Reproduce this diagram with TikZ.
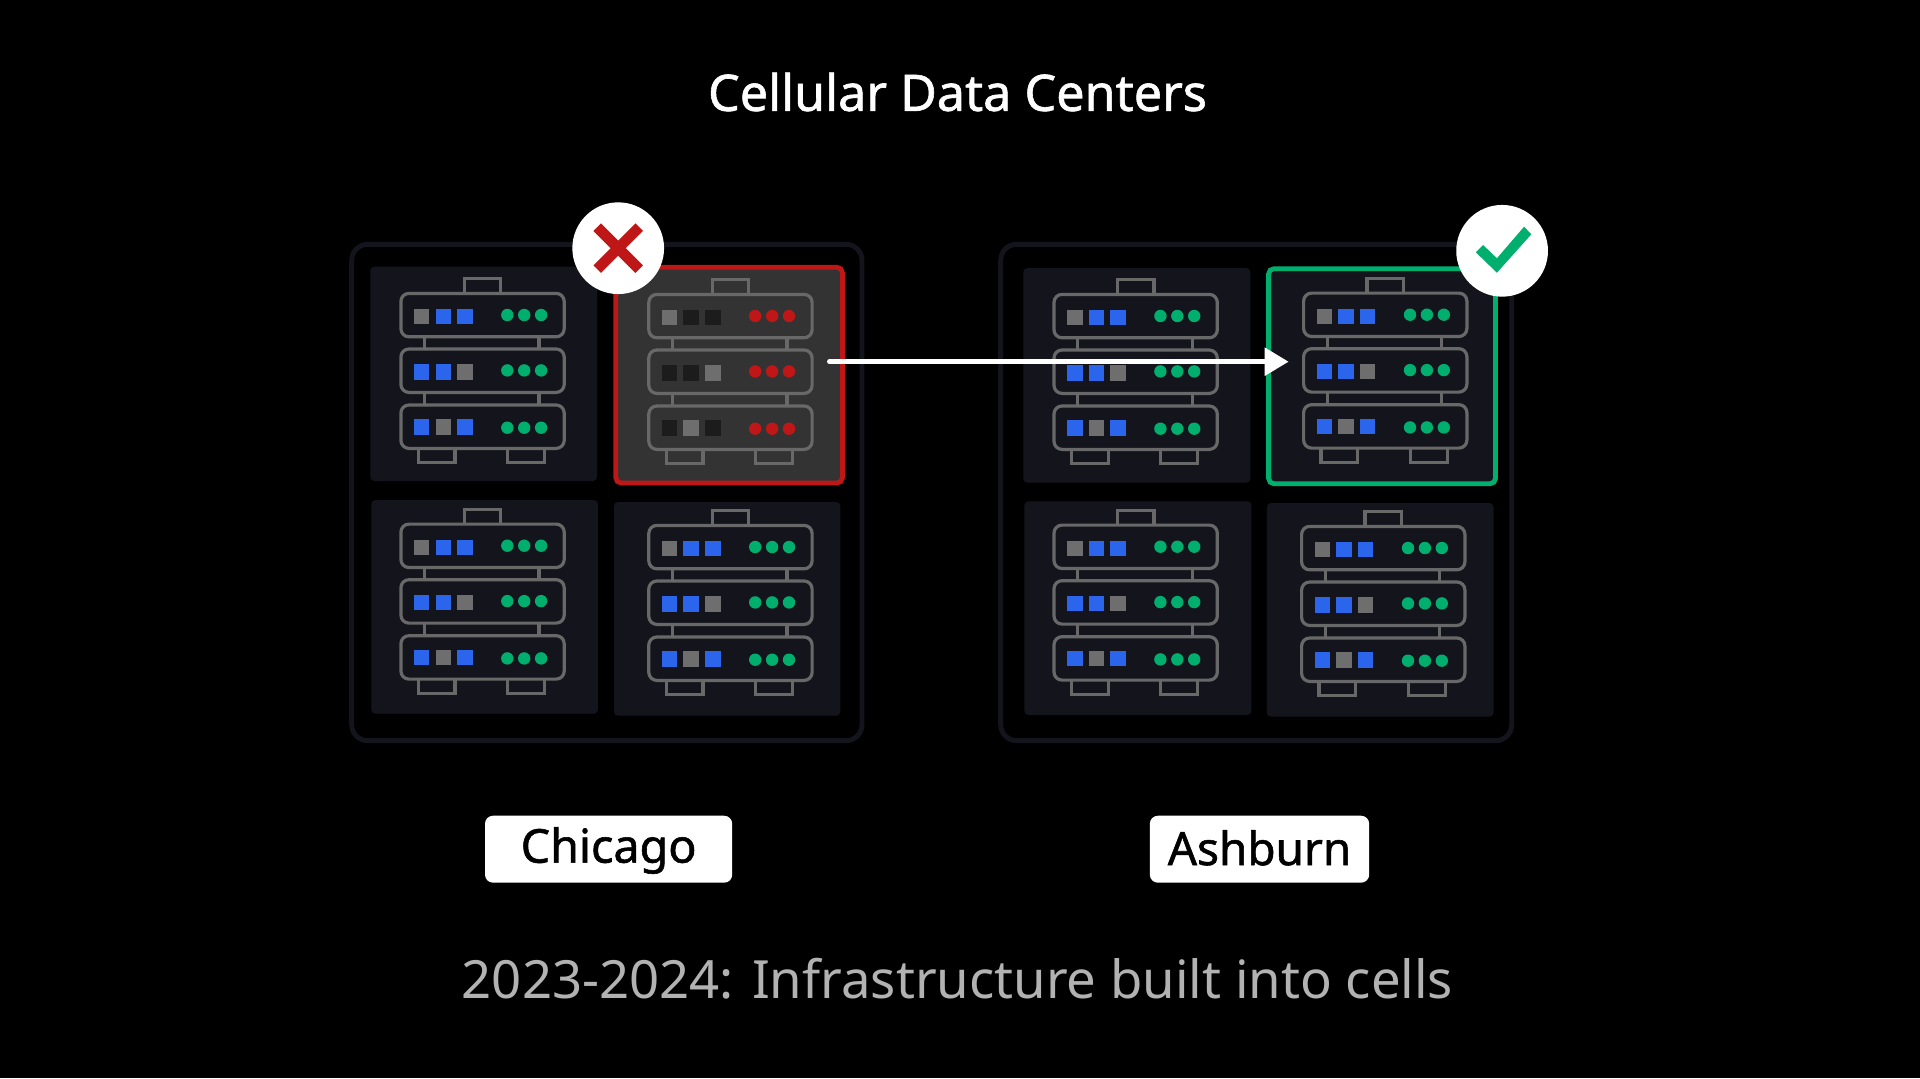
\documentclass[tikz,border=0pt]{standalone}
\usepackage{fontspec}
\usepackage{tikz}
\usetikzlibrary{arrows.meta}
\setmainfont{Noto Sans}
\newfontfamily\medfont{Noto Sans}[FakeBold=1.2]
\definecolor{framegray}{HTML}{14151C}
\definecolor{wiregray}{HTML}{686868}
\definecolor{ledgray}{HTML}{6E6E6E}
\definecolor{leddark}{HTML}{1C1C1C}
\definecolor{ledblue}{HTML}{2B65EC}
\definecolor{ledgreen}{HTML}{00AE6E}
\definecolor{ledred}{HTML}{BF1717}
\definecolor{cellfail}{HTML}{333333}
\tikzset{site/.style = {draw = framegray, line width = 3.7pt, rounded corners = 12pt}}
\tikzset{cell/.style = {fill = framegray, rounded corners = 3pt}}
\tikzset{wire/.style = {draw = wiregray, line width = 2.4pt}}
\tikzset{unit/.style = {wire, rounded corners = 6pt}}
\tikzset{led/.style = {circle, inner sep = 0, minimum size = 9.3pt}}
\tikzset{pad/.style = {inner sep = 0, minimum size = 11.6pt}}
\tikzset{badge/.style = {fill = white, circle, inner sep = 0, minimum size = 68.8pt}}
\tikzset{place/.style = {fill = white, text = black, rounded corners = 6pt, inner sep = 0, text depth = 0pt}}
% #1 origin, #2 dot colour, #3 colour of the lit pads
\newcommand{\rackicon}[3]{
  \begin{scope}[shift = {#1}]
    \draw [wire] (94, 26.7) -- (94, 12) -- (130.5, 12) -- (130.5, 26.7);
    \draw [wire] (47.9, 181.7) -- (47.9, 196) -- (84.7, 196) -- (84.7, 181.7);
    \draw [wire] (137.4, 181.7) -- (137.4, 196) -- (174.2, 196) -- (174.2, 181.7);
    \foreach \xpos in {54.4, 168.7} {
      \draw [wire] (\xpos, 69.7) -- (\xpos, 82.3);
      \draw [wire] (\xpos, 125.7) -- (\xpos, 138.3);
    }
    \foreach \ytop in {26.7, 82.3, 138.3} {
      \draw [unit] (30.6, \ytop) rectangle ++(163.3, 43.4);
    }
    \foreach \xpad/\ypad/\padcol in {51.4/50/ledgray, 73/50/#3, 94.6/50/#3,
                                     51.4/105.3/#3, 73/105.3/#3, 94.6/105.3/ledgray,
                                     51.4/160.3/#3, 73/160.3/ledgray, 94.6/160.3/#3} {
      \node [pad, fill = \padcol] at (\xpad, \ypad) {};
    }
    \foreach \yled in {48.3, 103.7, 161} {
      \foreach \xled in {137, 153.9, 170.8} {
        \node [led, fill = #2] at (\xled, \yled) {};
      }
    }
  \end{scope}
}
\begin{document}
\begin{tikzpicture}[x = 0.75pt, y = -0.75pt]
  \useasboundingbox [fill = black] (0, 0) rectangle (1920, 1078);

  % Chicago
  \draw [site] (351.7, 244.3) rectangle (862, 740.7);
  \fill [cell] (370.3, 266.7) rectangle (597, 481);
  \fill [cell] (371.3, 500) rectangle (597.9, 713.7);
  \fill [cell] (614, 502) rectangle (840.3, 715.7);
  \draw [draw = ledred, fill = cellfail, line width = 3.6pt, rounded corners = 4pt] (615.8, 267.3) rectangle (842.4, 483);

  \rackicon{(370.3, 266.7)}{ledgreen}{ledblue}
  \rackicon{(370.3, 497.4)}{ledgreen}{ledblue}
  \rackicon{(618.2, 498.7)}{ledgreen}{ledblue}
  \rackicon{(618.2, 267.7)}{ledred}{leddark}

  % Ashburn
  \draw [site] (1000.7, 244.3) rectangle (1511.7, 740.7);
  \fill [cell] (1023.4, 268) rectangle (1250.3, 482.7);
  \fill [cell] (1024.4, 501.3) rectangle (1251.4, 715);
  \fill [cell] (1266.9, 503) rectangle (1493.5, 716.7);
  \draw [draw = ledgreen, fill = framegray, line width = 3.6pt, rounded corners = 4pt] (1268.6, 268.7) rectangle (1495.5, 483.7);

  \rackicon{(1023.4, 267.7)}{ledgreen}{ledblue}
  \rackicon{(1023.4, 498.4)}{ledgreen}{ledblue}
  \rackicon{(1271, 499.7)}{ledgreen}{ledblue}
  \rackicon{(1273, 266.4)}{ledgreen}{ledblue}

  % failover
  \coordinate (failfrom) at (829.5, 361.7);
  \coordinate (failto) at (1288.6, 361.7);
  \draw [white, line width = 3.7pt, line cap = round, -{Triangle[length = 18pt, width = 20.5pt]}] (failfrom) -- (failto);

  \node [badge] (crossbadge) at (618.2, 248.2) {};
  \draw [ledred, line width = 8pt] (crossbadge.center) ++(-21, -21) -- ++(42, 42);
  \draw [ledred, line width = 8pt] (crossbadge.center) ++(-21, 21) -- ++(42, -42);
  \node [badge] (tickbadge) at (1502.1, 250.8) {};
  \fill [ledgreen] (1524.1, 226.7) -- (1531.3, 234.3) -- (1496.9, 272.7) -- (1475.9, 252.3) -- (1483.1, 245) -- (1496.9, 258.3) -- cycle;

  \node [text = white] (title) at (957.5, 92) {\medfont\fontsize{37.7}{37.7}\selectfont Cellular Data Centers};
  \node [place, minimum width = 185.4pt, minimum height = 50.2pt, text height = 20.2pt] (chicago) at (608.6, 849.2) {\medfont\fontsize{35}{35}\selectfont Chicago};
  \node [place, minimum width = 164.5pt, minimum height = 50.2pt, text height = 23.8pt] (ashburn) at (1259.5, 849.2) {\medfont\fontsize{34.4}{34.4}\selectfont Ashburn};
  \node [text = black!30!white] (caption) at (957.5, 979) {\fontsize{39.5}{39.5}\selectfont 2023-2024: Infrastructure built into cells};
\end{tikzpicture}
\end{document}
